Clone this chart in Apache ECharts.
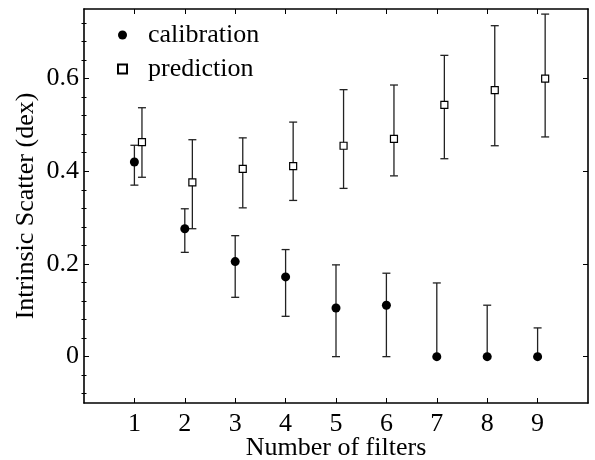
<!DOCTYPE html>
<html>
<head>
<meta charset="utf-8">
<script src="https://cdn.jsdelivr.net/npm/echarts@6/dist/echarts.min.js"></script>
<style>html,body{margin:0;padding:0;background:#fff}#c{width:595px;height:460px}</style>
</head>
<body>
<div id="c"></div>
<script>
// ---- data ----
const categories = [1, 2, 3, 4, 5, 6, 7, 8, 9];
const calValue = [0.420, 0.276, 0.205, 0.172, 0.105, 0.111, 0, 0, 0];
const calLow   = [0.370, 0.225, 0.128, 0.087, 0, 0, 0, 0, 0];
const calHigh  = [0.456, 0.319, 0.261, 0.231, 0.198, 0.180, 0.159, 0.111, 0.062];
const predValue = [0.463, 0.376, 0.405, 0.411, 0.455, 0.470, 0.543, 0.575, 0.600];
const predLow   = [0.387, 0.276, 0.321, 0.337, 0.363, 0.390, 0.427, 0.455, 0.474];
const predHigh  = [0.537, 0.468, 0.472, 0.506, 0.576, 0.586, 0.650, 0.714, 0.739];
const xTicks = [1, 2, 3, 4, 5, 6, 7, 8, 9];
const yTickLabels = [0, 0.2, 0.4, 0.6];
const yMinorTicks = [-0.08, -0.04, 0.04, 0.08, 0.12, 0.16, 0.24, 0.28, 0.32, 0.36, 0.44, 0.48, 0.52, 0.56, 0.64, 0.68, 0.72];
const PRED_OFFSET = 0.15;

const FONT = '"Liberation Serif", "Times New Roman", serif';
const FS = 26;
const calPts = categories.map((c, i) => [c, calValue[i]]);
const predPts = categories.map((c, i) => [c + PRED_OFFSET, predValue[i]]);
const calErr = categories.map((c, i) => [c, calLow[i], calHigh[i]]);
const predErr = categories.map((c, i) => [c + PRED_OFFSET, predLow[i], predHigh[i]]);

function errRender(params, api) {
  const x = api.value(0);
  const lo = api.coord([x, api.value(1)]);
  const hi = api.coord([x, api.value(2)]);
  const hw = 4;
  const style = { stroke: '#222', lineWidth: 1.3 };
  return {
    type: 'group',
    children: [
      { type: 'line', shape: { x1: lo[0], y1: lo[1], x2: hi[0], y2: hi[1] }, style },
      { type: 'line', shape: { x1: lo[0] - hw, y1: lo[1], x2: lo[0] + hw, y2: lo[1] }, style },
      { type: 'line', shape: { x1: hi[0] - hw, y1: hi[1], x2: hi[0] + hw, y2: hi[1] }, style }
    ]
  };
}

const lineStyle = { color: '#000', width: 1.6 };
const xBase = { type: 'value', min: 0, max: 10, splitLine: { show: false } };
const yBase = { type: 'value', min: -0.1, max: 0.75, splitLine: { show: false } };

const option = {
  animation: false,
  backgroundColor: '#fff',
  grid: { left: 84, right: 7, top: 9, bottom: 57, containLabel: false, outerBoundsMode: 'none' },
  legend: {
    orient: 'vertical',
    left: 112,
    top: 17,
    itemWidth: 9,
    itemHeight: 9,
    itemGap: 8,
    textStyle: { fontFamily: FONT, fontSize: FS, color: '#000', padding: [0, 0, 0, 16] },
    data: [
      { name: 'calibration', icon: 'circle' },
      { name: 'prediction', icon: 'rect' }
    ]
  },
  xAxis: [
    Object.assign({}, xBase, {
      position: 'bottom',
      name: 'Number of filters',
      nameLocation: 'middle',
      nameGap: 32,
      nameMoveOverlap: false,
      nameTextStyle: { fontFamily: FONT, fontSize: FS, color: '#000' },
      axisLine: { show: true, onZero: false, lineStyle },
      axisTick: { show: true, inside: true, length: 5, customValues: xTicks, lineStyle: { color: '#000', width: 1 } },
      axisLabel: { show: true, customValues: xTicks, margin: 8, fontFamily: FONT, fontSize: FS, color: '#000' }
    }),
    Object.assign({}, xBase, {
      position: 'top',
      axisLine: { show: true, onZero: false, lineStyle },
      axisTick: { show: true, inside: true, length: 5, customValues: xTicks, lineStyle: { color: '#000', width: 1 } },
      axisLabel: { show: false }
    })
  ],
  yAxis: [
    Object.assign({}, yBase, {
      position: 'left',
      name: 'Intrinsic Scatter (dex)',
      nameLocation: 'middle',
      nameGap: 45,
      nameMoveOverlap: false,
      nameTextStyle: { fontFamily: FONT, fontSize: FS, color: '#000' },
      axisLine: { show: true, onZero: false, lineStyle },
      axisTick: { show: true, inside: true, length: 5, customValues: yTickLabels, lineStyle: { color: '#000', width: 1 } },
      axisLabel: {
        show: true, customValues: yTickLabels, margin: 5, fontFamily: FONT, fontSize: FS, color: '#000',
        formatter: v => (Math.abs(v) < 1e-9 ? '0' : v.toFixed(1))
      }
    }),
    Object.assign({}, yBase, {
      position: 'left',
      axisLine: { show: false },
      axisTick: { show: true, inside: true, length: 2.5, customValues: yMinorTicks, lineStyle: { color: '#000', width: 1 } },
      axisLabel: { show: false }
    }),
    Object.assign({}, yBase, {
      position: 'right',
      axisLine: { show: true, onZero: false, lineStyle },
      axisTick: { show: true, inside: true, length: 5, customValues: yTickLabels, lineStyle: { color: '#000', width: 1 } },
      axisLabel: { show: false }
    }),
    Object.assign({}, yBase, {
      position: 'right',
      axisLine: { show: false },
      axisTick: { show: true, inside: true, length: 2.5, customValues: yMinorTicks, lineStyle: { color: '#000', width: 1 } },
      axisLabel: { show: false }
    })
  ],
  series: [
    { type: 'custom', name: 'calErr', renderItem: errRender, data: calErr, xAxisIndex: 0, yAxisIndex: 0, z: 1, silent: true },
    { type: 'custom', name: 'predErr', renderItem: errRender, data: predErr, xAxisIndex: 0, yAxisIndex: 0, z: 1, silent: true },
    {
      type: 'scatter', name: 'calibration', data: calPts, symbol: 'circle', symbolSize: 9,
      itemStyle: { color: '#000', opacity: 1 }, z: 3
    },
    {
      type: 'scatter', name: 'prediction', data: predPts, symbol: 'rect', symbolSize: 7,
      itemStyle: { color: '#fff', borderColor: '#000', borderWidth: 1.2, opacity: 1 }, z: 3
    }
  ]
};

echarts.init(document.getElementById('c')).setOption(option);
</script>
</body>
</html>
